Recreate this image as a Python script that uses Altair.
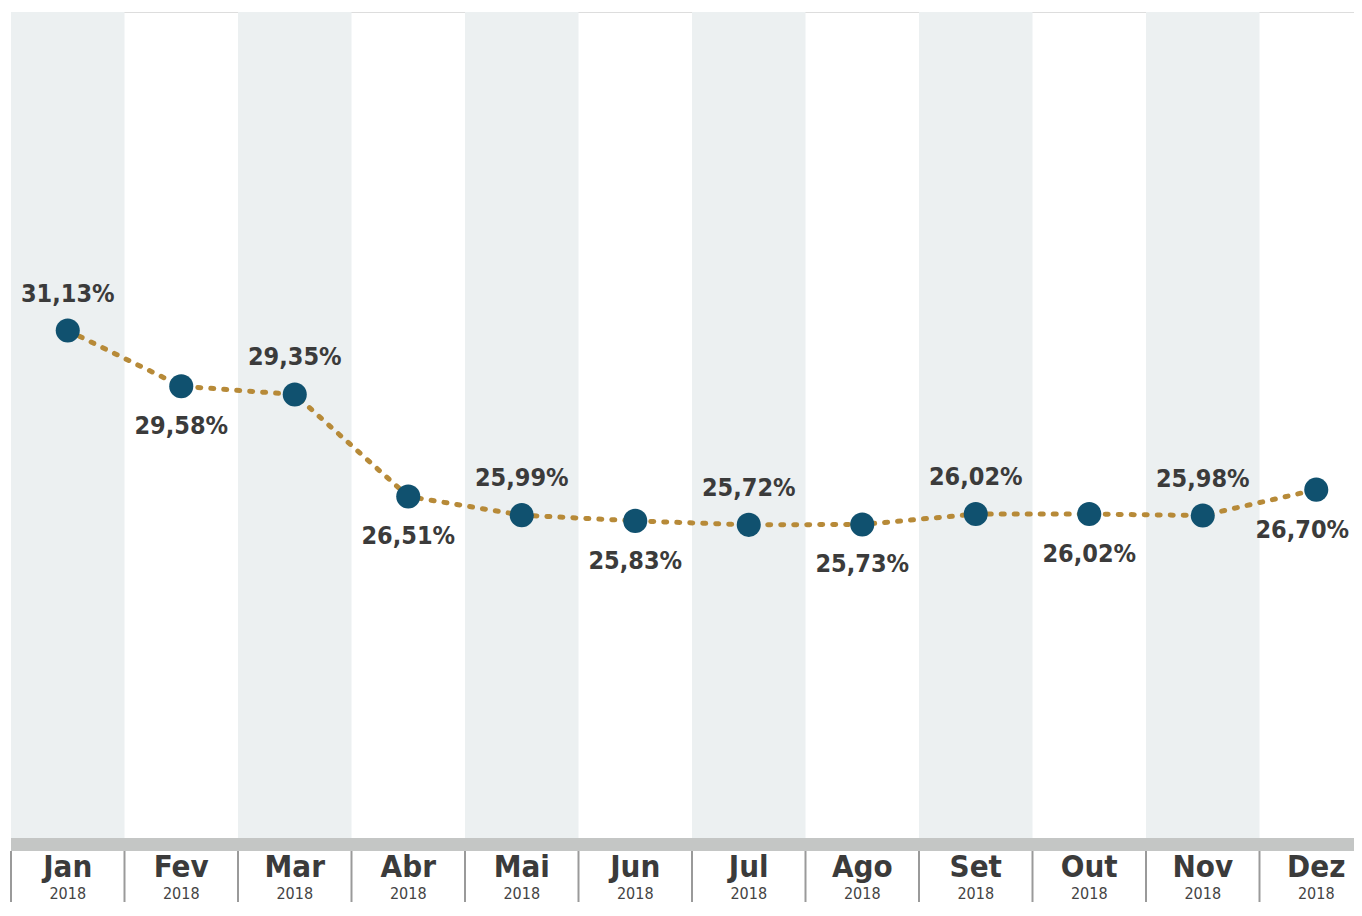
import altair as alt
import pandas as pd

months = ["Jan", "Fev", "Mar", "Abr", "Mai", "Jun", "Jul", "Ago", "Set", "Out", "Nov", "Dez"]
years = ["2018"] * 12
values = [31.13, 29.58, 29.35, 26.51, 25.99, 25.83, 25.72, 25.73, 26.02, 26.02, 25.98, 26.70]
labels = ["31,13%", "29,58%", "29,35%", "26,51%", "25,99%", "25,83%", "25,72%", "25,73%",
          "26,02%", "26,02%", "25,98%", "26,70%"]
label_side = ["above", "below"] * 6
shaded = [True, False] * 6

df = pd.DataFrame({
    "month": months, "year": years, "value": values, "label": labels,
    "side": label_side, "shaded": shaded,
})

W, H = 1343, 826
FONT = "DejaVu Sans Condensed"
TXT = "#3b3b3b"

xscale = alt.Scale(range=[0, 1362], paddingInner=0, paddingOuter=0)
x = alt.X("month:N", sort=months, axis=None, scale=xscale)
y = alt.Y("value:Q", axis=None, scale=alt.Scale(domain=[17, 40]))

base = alt.Chart(df)

bands = base.transform_filter("datum.shaded").mark_rect(color="#ecf0f1").encode(
    x=x, y=alt.value(0), y2=alt.value(H))

bar = base.mark_rect(color="#c4c6c5").encode(
    x=alt.value(0), x2=alt.value(1362), y=alt.value(H), y2=alt.value(H + 13))

seps = base.mark_rule(color="#9a9a9a", strokeWidth=2).encode(
    x=alt.X("month:N", sort=months, axis=None, bandPosition=0, scale=xscale),
    y=alt.value(H + 13), y2=alt.value(H + 100))

mlab = base.mark_text(font=FONT, fontWeight="bold", fontSize=31, color=TXT,
                      baseline="middle").encode(x=x, y=alt.value(H + 30), text="month:N")
ylab = base.mark_text(font=FONT, fontSize=16, color="#444444",
                      baseline="middle").encode(x=x, y=alt.value(H + 56), text="year:N")

line = base.mark_line(color="#b78a38", strokeWidth=5, strokeDash=[3, 10],
                      strokeCap="round").encode(x=x, y=y)
pts = base.mark_point(filled=True, shape="circle", size=580, color="#10516f",
                      opacity=1).encode(x=x, y=y)

above = base.transform_filter("datum.side == 'above'").mark_text(
    font=FONT, fontWeight="bold", fontSize=25, color=TXT, baseline="middle", dy=-37
).encode(x=x, y=y, text="label:N")
below = base.transform_filter("datum.side == 'below' && datum.month != 'Dez'").mark_text(
    font=FONT, fontWeight="bold", fontSize=25, color=TXT, baseline="middle", dy=40
).encode(x=x, y=y, text="label:N")
below_last = base.transform_filter("datum.month == 'Dez'").mark_text(
    font=FONT, fontWeight="bold", fontSize=25, color=TXT, baseline="middle", dy=40, dx=-14
).encode(x=x, y=y, text="label:N")

chart = alt.layer(bands, bar, seps, mlab, ylab, line, pts, above, below, below_last).properties(
    width=W, height=H,
    autosize=alt.AutoSizeParams(type="none"),
    padding={"left": 3, "top": 4, "right": 0, "bottom": 64},
).configure_view(stroke=None).configure(background="white")

chart.save("out.html", embed_options={"renderer": "svg", "actions": False})
